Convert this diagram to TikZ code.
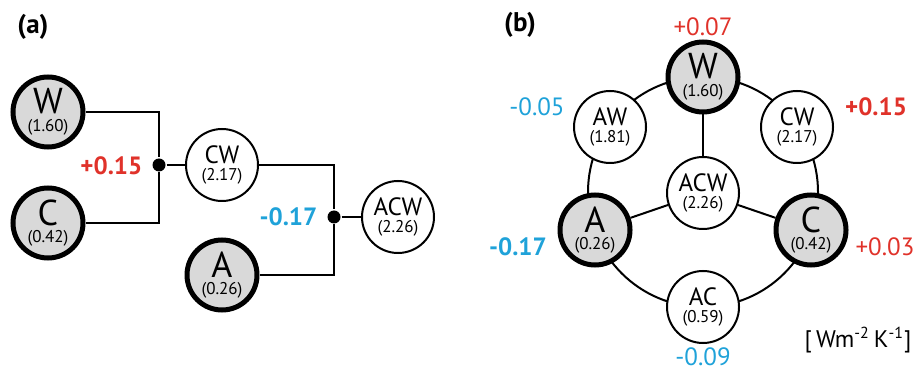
\documentclass[tikz,border=0pt]{standalone}
\usepackage{fontspec}
\setmainfont{PT Sans}
\usetikzlibrary{positioning}
\definecolor{posred}{HTML}{E0322A}
\definecolor{negblue}{HTML}{1FA2D9}
\definecolor{leafgray}{HTML}{D9D9D9}
\newcommand{\coef}[1]{{\fontsize{8.5}{8.8}\selectfont(#1)}}

\begin{document}
\begin{tikzpicture}[x=0.5pt, y=-0.5pt, line width=1pt,
  leaf/.style = {draw, circle, fill=leafgray, line width=2.5pt, minimum size=35pt, inner sep=0pt, align=center, font=\fontsize{18}{8.8}\selectfont},
  pair/.style = {draw, circle, fill=white, line width=1pt, minimum size=36pt, inner sep=0pt, align=center, font=\fontsize{12.5}{8.8}\selectfont},
  dot/.style = {circle, fill=black, inner sep=0pt, minimum size=6.5pt},
  gain/.style = {font=\fontsize{12.5}{14}\selectfont},
  biggain/.style = {font=\bfseries\fontsize{12.5}{14}\selectfont},
  panel/.style = {font=\bfseries\fontsize{13.5}{15}\selectfont}]
\useasboundingbox (0,0) rectangle (919,373);

\node[panel] (pa) at (33,27) {(a)};
\node[leaf] (Wa) at (48,112) {W\\\coef{1.60}};
\node[leaf] (Ca) at (48,223) {C\\\coef{0.42}};
\node[pair] (CWa) at (222,165) {CW\\\coef{2.17}};
\node[leaf] (Aa) at (222,275) {A\\\coef{0.26}};
\node[pair] (ACWa) at (398,217) {ACW\\\coef{2.26}};
\node[dot] (j1) at (159,165) {};
\node[dot] (j2) at (334,217) {};
\node[biggain, text=posred, anchor=east] (ga1) at (150,166) {+0.15};
\node[biggain, text=negblue, anchor=east] (ga2) at (325,217) {-0.17};

\draw (Wa) -| (j1) |- (Ca);
\draw (j1) -- (CWa);
\draw (CWa) -| (j2) |- (Aa);
\draw (j2) -- (ACWa);

\node[panel] (pb) at (520,25) {(b)};
\draw (703,192) circle [radius=57.5pt];
\node[leaf] (Wb) at (703,77) {W\\\coef{1.60}};
\node[pair] (AWb) at (610,127) {AW\\\coef{1.81}};
\node[pair] (CWb) at (797,127) {CW\\\coef{2.17}};
\node[pair] (ACWb) at (703,193) {ACW\\\coef{2.26}};
\node[leaf] (Ab) at (595,230) {A\\\coef{0.26}};
\node[leaf] (Cb) at (811,230) {C\\\coef{0.42}};
\node[pair] (ACb) at (703,307) {AC\\\coef{0.59}};

\draw (ACWb) -- (Wb);
\draw (ACWb) -- (Ab);
\draw (ACWb) -- (Cb);

\node[gain, text=posred] (gW) at (703,27) {+0.07};
\node[gain, text=negblue] (gAW) at (537,107) {-0.05};
\node[biggain, text=posred] (gCW) at (876,107) {+0.15};
\node[biggain, text=negblue] (gA) at (518,247) {-0.17};
\node[gain, text=posred] (gC) at (885,247) {+0.03};
\node[gain, text=negblue] (gAC) at (703,357) {-0.09};
\node[font=\fontsize{12}{14}\selectfont] (unit) at (858,340) {[\,Wm\textsuperscript{-2}\,K\textsuperscript{-1}]};
\end{tikzpicture}
\end{document}
